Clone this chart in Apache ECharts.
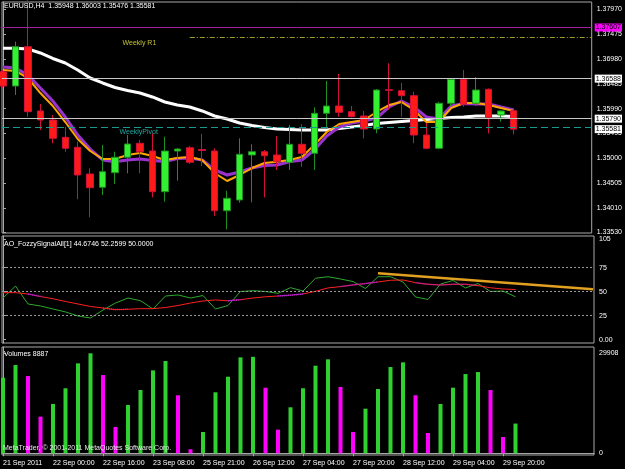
<!DOCTYPE html>
<html>
<head>
<meta charset="utf-8">
<title>EURUSD,H4</title>
<script src="https://cdn.jsdelivr.net/npm/echarts@6.0.0/dist/echarts.min.js"></script>
<style>
  html, body { margin: 0; padding: 0; background: #000; }
  #chart { width: 625px; height: 469px; }
</style>
</head>
<body>
<div id="chart"></div>
<script>
const FONT = '"Liberation Sans", Arial, sans-serif';
const FS = 7;

// x axis tick labels (every 4th H4 bar)
const xTickIdx = [0, 4, 8, 12, 16, 20, 24, 28, 32, 36, 40];
const xTickLabels = ['21 Sep 2011', '22 Sep 00:00', '22 Sep 16:00', '23 Sep 08:00', '25 Sep 21:00',
  '26 Sep 12:00', '27 Sep 04:00', '27 Sep 20:00', '28 Sep 12:00', '29 Sep 04:00', '29 Sep 20:00'];
const xMin = -0.08, xMax = 47.28;

// EURUSD H4 candles
const open = [1.36726, 1.36441, 1.37224, 1.35943, 1.35763, 1.35418, 1.35219, 1.34687, 1.34422, 1.34713,
  1.35020, 1.35299, 1.35145, 1.34334, 1.35145, 1.35211, 1.35175, 1.35145, 1.33955, 1.34169,
  1.35066, 1.35131, 1.35066, 1.34920, 1.35279, 1.35099, 1.35897, 1.36042, 1.35929, 1.35843,
  1.35584, 1.36367, 1.36347, 1.36248, 1.35464, 1.35199, 1.36096, 1.36574, 1.36096, 1.36375,
  1.35863, 1.35948];
const high = [1.36760, 1.37324, 1.38150, 1.36082, 1.35863, 1.35630, 1.35331, 1.34800, 1.35265, 1.35131,
  1.35464, 1.35365, 1.35498, 1.35430, 1.35205, 1.35245, 1.35484, 1.35199, 1.34354, 1.35398,
  1.35279, 1.35165, 1.35444, 1.35664, 1.35683, 1.36016, 1.36541, 1.36680, 1.36042, 1.35943,
  1.36381, 1.36893, 1.36501, 1.36327, 1.35703, 1.36128, 1.36580, 1.36760, 1.36614, 1.36391,
  1.35963, 1.36003];
const low = [1.36401, 1.36262, 1.35829, 1.35564, 1.35299, 1.35131, 1.34183, 1.33824, 1.34268, 1.34488,
  1.34701, 1.34701, 1.34222, 1.34135, 1.34553, 1.34886, 1.34846, 1.33850, 1.33585, 1.34115,
  1.34123, 1.34222, 1.34767, 1.34767, 1.34832, 1.34767, 1.35598, 1.35829, 1.35813, 1.35398,
  1.35498, 1.35963, 1.35833, 1.35299, 1.35179, 1.35179, 1.36042, 1.36028, 1.36042, 1.35498,
  1.35729, 1.35476];
const close = [1.36441, 1.37224, 1.35929, 1.35763, 1.35398, 1.35199, 1.34667, 1.34414, 1.34733, 1.35020,
  1.35285, 1.35131, 1.34334, 1.35145, 1.35185, 1.34920, 1.35155, 1.33955, 1.34203, 1.35080,
  1.35131, 1.35052, 1.34932, 1.35279, 1.35099, 1.35897, 1.36042, 1.35917, 1.35829, 1.35584,
  1.36361, 1.36355, 1.36248, 1.35464, 1.35199, 1.36096, 1.36574, 1.36076, 1.36361, 1.35817,
  1.35943, 1.35581];

// moving averages
const maFast = [1.36760, 1.36740, 1.36600, 1.36301, 1.36042, 1.35723, 1.35385, 1.35145, 1.34986, 1.34986,
  1.35066, 1.35105, 1.35046, 1.34966, 1.35006, 1.35026, 1.34966, 1.34707, 1.34547, 1.34667,
  1.34806, 1.34906, 1.34932, 1.34966, 1.35026, 1.35265, 1.35524, 1.35683, 1.35723, 1.35763,
  1.35923, 1.36062, 1.36122, 1.35963, 1.35723, 1.35723, 1.36002, 1.36102, 1.36102, 1.36062,
  1.36002, 1.35943];
const maMid = [1.36820, 1.36800, 1.36660, 1.36401, 1.36142, 1.35823, 1.35464, 1.35185, 1.34966, 1.34932,
  1.34966, 1.34986, 1.34956, 1.34936, 1.34996, 1.35006, 1.34966, 1.34767, 1.34667, 1.34727,
  1.34806, 1.34856, 1.34866, 1.34932, 1.34966, 1.35165, 1.35444, 1.35624, 1.35703, 1.35743,
  1.35803, 1.36022, 1.36142, 1.36022, 1.35823, 1.35783, 1.36042, 1.36092, 1.36082, 1.36082,
  1.36022, 1.35963];
const maSlow = [1.37192, 1.37192, 1.37178, 1.37099, 1.36989, 1.36899, 1.36760, 1.36600, 1.36501, 1.36411,
  1.36351, 1.36301, 1.36222, 1.36122, 1.36062, 1.36022, 1.35943, 1.35843, 1.35783, 1.35703,
  1.35653, 1.35614, 1.35584, 1.35574, 1.35564, 1.35564, 1.35564, 1.35594, 1.35624, 1.35653,
  1.35693, 1.35713, 1.35733, 1.35753, 1.35773, 1.35793, 1.35813, 1.35823, 1.35843, 1.35843,
  1.35843, 1.35833];

const priceTicks = [1.33530, 1.34010, 1.34505, 1.35000, 1.35495, 1.35990, 1.36485, 1.36980, 1.37475, 1.37970];
const levelMagenta = 1.37607;
const levelHigh = 1.36588;
const levelLow = 1.35790;
const bidPrice = 1.35581;
const weeklyR1 = 1.37404;
const weeklyR1From = 15;
const weeklyPivot = 1.35618;

// AO_FozzySignalAll indicator
const aoGreen = [43.4, 55.9, 37.2, 35.1, 32.0, 28.9, 24.7, 22.6, 30.9, 38.2,
  43.4, 40.6, 32.0, 45.5, 46.6, 43.4, 46.0, 32.0, 35.6, 50.2,
  51.0, 50.2, 48.3, 54.2, 50.7, 64.0, 65.6, 63.2, 60.6, 53.3,
  65.6, 65.6, 60.1, 44.5, 41.9, 58.0, 61.7, 53.9, 58.5, 50.2,
  50.7, 44.67];
const aoRed = [49.0, 49.0, 47.6, 45.0, 42.6, 39.8, 37.2, 34.6, 33.0, 31.3,
  31.7, 32.3, 32.3, 33.5, 35.6, 38.2, 40.3, 41.4, 40.5, 41.7,
  43.4, 44.7, 45.5, 46.4, 47.6, 50.4, 53.9, 55.3, 57.0, 58.5,
  60.1, 61.9, 62.2, 59.4, 57.7, 57.0, 57.7, 57.7, 56.3, 54.1,
  52.8, 52.26];
const aoPurple = [null, null, 47.6, 45.0, null, null, null, null, 33.0, 31.3,
  31.7, null, null, null, null, null, null, null, 40.5, 41.7,
  null, null, 45.5, 46.4, 47.6, null, null, 55.3, 57.0, 58.5,
  60.1, null, null, 59.4, 57.7, 57.0, 57.7, 57.7, 56.3, null,
  null, null];
const trendX = [30, 47.2];
const trendV = [69.2, 52.5];
const aoTicks = [0, 25, 50, 75, 105];
const aoLevels = [75, 50, 25];

// tick volumes
const volumes = [22600, 26400, 23100, 10950, 14750, 19440, 26900, 29908, 23400, 7870,
  14450, 18930, 24800, 27600, 17340, 1200, 6370, 18240, 22900, 28700,
  28850, 19620, 7060, 13750, 19440, 26200, 28100, 19830, 6370, 13340,
  19230, 25800, 27200, 17350, 6070, 14750, 19620, 23700, 24300, 18930,
  4870, 8887];
const volTicks = [0, 29908];

const pts = arr => arr.map((v, i) => [i, v]);
const candleData = open.map((o, i) => [i, o, close[i], low[i], high[i]]);
const volData = volumes.map((v, i) => ({
  value: [i, v],
  itemStyle: { color: (i === 0 || v > volumes[i - 1]) ? '#2fd02f' : '#ff00ff' }
}));

const txt = { color: '#ffffff', fontSize: FS, fontFamily: FONT };
const border = '#a8a8a8';

const xAxisBase = (g) => ({
  type: 'value', gridIndex: g, min: xMin, max: xMax,
  show: g === 2,
  splitLine: { show: false },
  axisLine: { show: true, lineStyle: { color: border } },
  axisTick: { show: true, customValues: xTickIdx, length: 3, lineStyle: { color: border } },
  axisLabel: {
    customValues: xTickIdx, align: 'left', margin: 5, ...txt,
    formatter: v => xTickLabels[xTickIdx.indexOf(v)] || ''
  }
});

const yAxisBase = (g, min, max, ticks, fmt) => ({
  type: 'value', gridIndex: g, position: 'right', min: min, max: max,
  splitLine: { show: false },
  axisLine: { show: true, lineStyle: { color: border } },
  axisTick: { show: true, customValues: ticks, length: 3, lineStyle: { color: border } },
  axisLabel: { customValues: ticks, margin: 5, formatter: fmt, ...txt }
});

const boxLabel = (text, bg, fg) => ({
  show: true, position: 'end', distance: 3, formatter: text,
  backgroundColor: bg, color: fg, padding: [1, 1, 0, 1],
  fontSize: FS, fontFamily: FONT
});

// horizontal level across the whole panel
const hLine = (v, from, lineStyle, label) => [
  { coord: [from, v], lineStyle: lineStyle, label: label || { show: false } },
  { coord: [xMax, v] }
];

const option = {
  backgroundColor: '#000000',
  animation: false,
  title: [
    { text: 'EURUSD,H4  1.35948 1.36003 1.35476 1.35581', left: 4, top: 3, padding: 0,
      textStyle: { ...txt, fontWeight: 'normal' } },
    { text: 'AO_FozzySignalAll[1] 44.6746 52.2599 50.0000', left: 4, top: 241, padding: 0,
      textStyle: { ...txt, fontWeight: 'normal' } },
    { text: 'Volumes 8887', left: 4, top: 351, padding: 0,
      textStyle: { ...txt, fontWeight: 'normal' } },
    { text: 'MetaTrader, © 2001-2011 MetaQuotes Software Corp.', left: 3, top: 445, padding: 0,
      textStyle: { ...txt, color: '#e8e8e8', fontWeight: 'normal' } }
  ],
  grid: [
    { left: 2, right: 31, top: 2, height: 231, show: true, borderColor: border, borderWidth: 1 },
    { left: 2, right: 31, top: 236, height: 107, show: true, borderColor: border, borderWidth: 1 },
    { left: 2, right: 31, top: 347, height: 108, show: true, borderColor: border, borderWidth: 1 }
  ],
  xAxis: [xAxisBase(0), xAxisBase(1), xAxisBase(2)],
  yAxis: [
    yAxisBase(0, 1.33511, 1.38115, priceTicks, v => v.toFixed(5)),
    yAxisBase(1, -3.44, 108, aoTicks, v => v === 0 ? '0.00' : String(v)),
    yAxisBase(2, -520, 31792, volTicks, v => String(v))
  ],
  series: [
    {
      type: 'line', name: 'MA slow', xAxisIndex: 0, yAxisIndex: 0, data: pts(maSlow),
      showSymbol: false, z: 2, lineStyle: { color: '#ffffff', width: 3 },
      markLine: {
        silent: true, symbol: ['none', 'none'],
        data: [
          hLine(levelMagenta, xMin, { color: '#a020a0', type: 'solid', width: 1 },
            boxLabel(levelMagenta.toFixed(5), '#ff00ff', '#000000')),
          hLine(levelHigh, xMin, { color: '#c8c8c8', type: 'solid', width: 1 },
            boxLabel(levelHigh.toFixed(5), '#ffffff', '#000000')),
          hLine(levelLow, xMin, { color: '#c8c8c8', type: 'solid', width: 1 },
            boxLabel(levelLow.toFixed(5), '#ffffff', '#000000')),
          hLine(weeklyPivot, xMin, { color: '#1a9a8c', type: [7, 4], width: 1 }),
          hLine(bidPrice, xMin, { color: 'rgba(0,0,0,0)', width: 1 },
            boxLabel(bidPrice.toFixed(5), '#ffffff', '#000000')),
          hLine(weeklyR1, weeklyR1From, { color: '#a0a028', type: [5, 2, 1, 2], width: 1 })
        ]
      }
    },
    {
      type: 'line', name: 'MA mid', xAxisIndex: 0, yAxisIndex: 0, data: pts(maMid),
      showSymbol: false, z: 2, lineStyle: { color: '#9932cc', width: 3 }
    },
    {
      type: 'line', name: 'MA fast', xAxisIndex: 0, yAxisIndex: 0, data: pts(maFast),
      showSymbol: false, z: 2, lineStyle: { color: '#ffa500', width: 2 }
    },
    {
      type: 'candlestick', name: 'EURUSD', xAxisIndex: 0, yAxisIndex: 0,
      data: candleData, encode: { x: 0, y: [1, 2, 3, 4] },
      barWidth: 7, clip: true, z: 3,
      itemStyle: {
        color: '#33f033', color0: '#ff1a1a',
        borderColor: '#1e901e', borderColor0: '#d0103a', borderWidth: 1
      },
      markPoint: {
        silent: true, symbol: 'rect', symbolSize: 1,
        itemStyle: { color: 'rgba(0,0,0,0)' },
        data: [
          { coord: [10.96, 1.37304], label: { show: true, position: 'inside', formatter: 'Weekly R1',
            color: '#c0c030', fontSize: FS, fontFamily: FONT } },
          { coord: [10.9, 1.35518], label: { show: true, position: 'inside', formatter: 'WeeklyPivot',
            color: '#20a8a0', fontSize: FS, fontFamily: FONT } }
        ]
      }
    },
    {
      type: 'line', name: 'AO green', xAxisIndex: 1, yAxisIndex: 1, data: pts(aoGreen),
      showSymbol: false, z: 3, lineStyle: { color: '#2ea82e', width: 1 },
      markLine: {
        silent: true, symbol: ['none', 'none'], label: { show: false },
        data: aoLevels.map(v => hLine(v, xMin, { color: '#9a9a9a', type: [2, 2], width: 1 }))
      }
    },
    {
      type: 'line', name: 'AO red', xAxisIndex: 1, yAxisIndex: 1, data: pts(aoRed),
      showSymbol: false, z: 3, lineStyle: { color: '#ff2020', width: 1 }
    },
    {
      type: 'line', name: 'AO purple', xAxisIndex: 1, yAxisIndex: 1, data: pts(aoPurple),
      showSymbol: false, connectNulls: false, z: 4, lineStyle: { color: '#b020d0', width: 1.5, type: [1, 1] }
    },
    {
      type: 'line', name: 'Trend', xAxisIndex: 1, yAxisIndex: 1,
      data: trendX.map((x, i) => [x, trendV[i]]),
      showSymbol: false, z: 5, lineStyle: { color: '#e0a020', width: 2.5 }
    },
    {
      type: 'bar', name: 'Volumes', xAxisIndex: 2, yAxisIndex: 2, data: volData,
      barWidth: 4, z: 3
    }
  ]
};

const chart = echarts.init(document.getElementById('chart'));
chart.setOption(option);
</script>
</body>
</html>
